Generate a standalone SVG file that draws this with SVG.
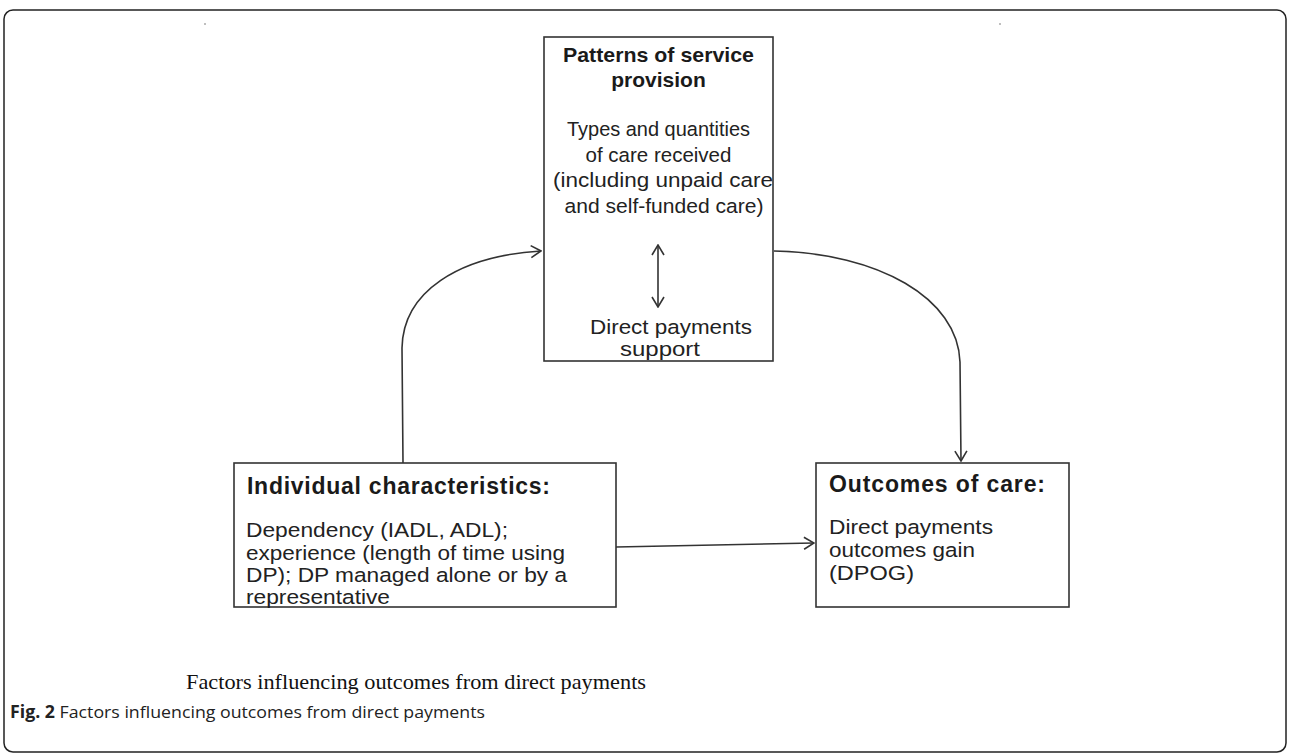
<svg xmlns="http://www.w3.org/2000/svg" width="1290" height="755" viewBox="0 0 1290 755">
  <style>
    .box { fill: #ffffff; stroke: #333333; stroke-width: 1.6; }
    .hd { font-family: "Liberation Sans", Arial, sans-serif; font-weight: bold; font-size: 21px; fill: #1a1a1a; }
    .hd2 { font-family: "Liberation Sans", Arial, sans-serif; font-weight: bold; font-size: 23px; fill: #1a1a1a; }
    .tx { font-family: "Liberation Sans", Arial, sans-serif; font-size: 20.5px; fill: #222222; }
    .mid { text-anchor: middle; }
    .conn { fill: none; stroke: #333333; stroke-width: 1.6; }
    .cap { font-family: "Liberation Serif", "Times New Roman", serif; font-size: 22px; fill: #111111; }
    .fig { font-family: "Open Sans", "Noto Sans", sans-serif; font-size: 17px; fill: #222222; }
  </style>
  <defs>
    <marker id="open" viewBox="0 0 12 14" refX="11" refY="7" markerWidth="12" markerHeight="14" markerUnits="userSpaceOnUse" orient="auto">
      <path d="M1,1 L11,7 L1,13" fill="none" stroke="#333333" stroke-width="1.6"/>
    </marker>
    <marker id="small" viewBox="0 0 12 14" refX="11" refY="7" markerWidth="12" markerHeight="14" markerUnits="userSpaceOnUse" orient="auto-start-reverse">
      <path d="M1,1 L11,7 L1,13" fill="none" stroke="#333333" stroke-width="1.6"/>
    </marker>
  </defs>

  <rect width="1290" height="755" fill="#ffffff"/>
  <!-- outer frame -->
  <rect x="4" y="10" width="1282" height="742" rx="9" ry="9" fill="none" stroke="#222222" stroke-width="1.5"/>
  <circle cx="205" cy="24" r="1" fill="#aaaaaa"/>
  <circle cx="1000" cy="24" r="1" fill="#aaaaaa"/>

  <!-- service provision -->
  <g id="service-provision">
    <rect class="box" x="544" y="37" width="229" height="324"/>
    <text class="hd mid" x="658.5" y="62" textLength="191" lengthAdjust="spacingAndGlyphs">Patterns of service</text>
    <text class="hd mid" x="658.5" y="87">provision</text>
    <text class="tx mid" x="658.5" y="136" textLength="183" lengthAdjust="spacingAndGlyphs">Types and quantities</text>
    <text class="tx mid" x="658.5" y="162">of care received</text>
    <text class="tx mid" x="663" y="187" textLength="220" lengthAdjust="spacingAndGlyphs">(including unpaid care</text>
    <text class="tx mid" x="664" y="213" textLength="199" lengthAdjust="spacingAndGlyphs">and self-funded care)</text>
    <text class="tx mid" x="671" y="334" textLength="162" lengthAdjust="spacingAndGlyphs">Direct payments</text>
    <text class="tx mid" x="660" y="356" textLength="80" lengthAdjust="spacingAndGlyphs">support</text>
  </g>

  <!-- individual characteristics -->
  <g id="individual-characteristics">
    <rect class="box" x="234" y="463" width="382" height="144"/>
    <text class="hd2" x="247" y="494" textLength="303" lengthAdjust="spacing">Individual characteristics:</text>
    <text class="tx" x="246" y="537" textLength="262" lengthAdjust="spacingAndGlyphs">Dependency (IADL, ADL);</text>
    <text class="tx" x="246" y="560" textLength="319" lengthAdjust="spacingAndGlyphs">experience (length of time using</text>
    <text class="tx" x="246" y="582" textLength="321" lengthAdjust="spacingAndGlyphs">DP); DP managed alone or by a</text>
    <text class="tx" x="246" y="604" textLength="144" lengthAdjust="spacingAndGlyphs">representative</text>
  </g>

  <!-- outcomes of care -->
  <g id="outcomes-of-care">
    <rect class="box" x="816" y="463" width="253" height="144"/>
    <text class="hd2" x="829" y="492" textLength="216" lengthAdjust="spacing">Outcomes of care:</text>
    <text class="tx" x="829" y="534" textLength="164" lengthAdjust="spacingAndGlyphs">Direct payments</text>
    <text class="tx" x="829" y="557" textLength="146" lengthAdjust="spacingAndGlyphs">outcomes gain</text>
    <text class="tx" x="829" y="580" textLength="85" lengthAdjust="spacingAndGlyphs">(DPOG)</text>
  </g>

  <!-- connectors, drawn over the boxes -->
  <g id="connectors">
    <path class="conn" d="M403,463 L402,348 C403,292 458,256 541,251" marker-end="url(#open)"/>
    <path class="conn" d="M774,251 C878,253 958,298 960,362 L961,461" marker-end="url(#open)"/>
    <path class="conn" d="M616,547 L814,543" marker-end="url(#open)"/>
    <path class="conn" d="M658,245 L658,307" marker-start="url(#small)" marker-end="url(#small)"/>
  </g>

  <!-- captions -->
  <text class="cap" x="186" y="689" textLength="460" lengthAdjust="spacingAndGlyphs">Factors influencing outcomes from direct payments</text>
  <text class="fig" x="10" y="718" textLength="475" lengthAdjust="spacingAndGlyphs"><tspan font-weight="bold">Fig. 2</tspan> Factors influencing outcomes from direct payments</text>
</svg>
